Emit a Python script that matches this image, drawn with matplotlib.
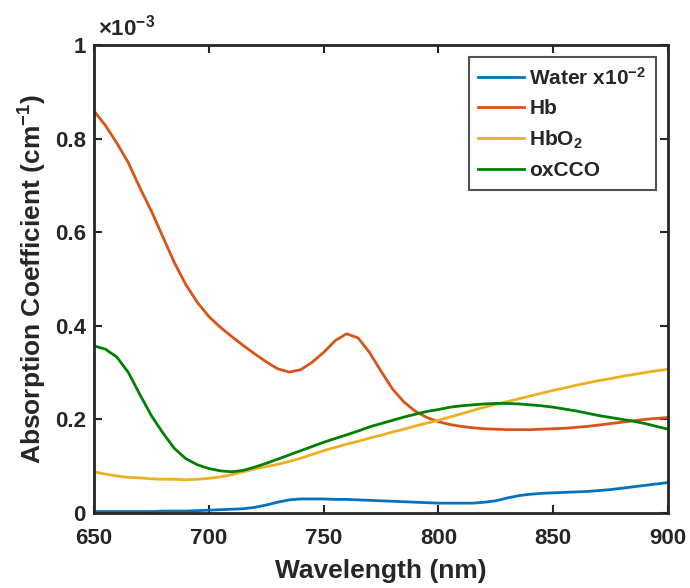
import numpy as np
import matplotlib
matplotlib.use('Agg')
import matplotlib.pyplot as plt

plt.rcParams['font.family'] = ['Liberation Sans', 'DejaVu Sans']
plt.rcParams['font.weight'] = 'bold'
plt.rcParams['mathtext.fontset'] = 'custom'
plt.rcParams['mathtext.rm'] = 'Liberation Sans'
plt.rcParams['mathtext.bf'] = 'Liberation Sans:bold'
plt.rcParams['mathtext.default'] = 'bf'

# golflengte (nm)
wl = np.arange(650, 901, 5)

# absorptie (x1e-3)
water = [0.003, 0.003, 0.003, 0.003, 0.003, 0.003, 0.004, 0.004, 0.004, 0.005,
         0.006, 0.007, 0.008, 0.009, 0.012, 0.017, 0.023, 0.028, 0.030, 0.030,
         0.030, 0.029, 0.029, 0.028, 0.027, 0.026, 0.025, 0.024, 0.023, 0.022,
         0.021, 0.021, 0.021, 0.021, 0.023, 0.026, 0.032, 0.037, 0.040, 0.042,
         0.043, 0.044, 0.045, 0.046, 0.048, 0.050, 0.053, 0.056, 0.059, 0.062,
         0.065]
hb = [0.859, 0.828, 0.790, 0.748, 0.695, 0.645, 0.590, 0.535, 0.488, 0.450,
      0.420, 0.397, 0.377, 0.358, 0.340, 0.323, 0.308, 0.301, 0.306, 0.322,
      0.343, 0.368, 0.383, 0.374, 0.343, 0.303, 0.265, 0.237, 0.217, 0.204,
      0.195, 0.189, 0.185, 0.182, 0.180, 0.179, 0.178, 0.178, 0.178, 0.179,
      0.180, 0.181, 0.183, 0.185, 0.188, 0.191, 0.194, 0.197, 0.200, 0.202,
      0.204]
hbo2 = [0.088, 0.083, 0.079, 0.076, 0.075, 0.073, 0.072, 0.072, 0.071, 0.072,
        0.074, 0.077, 0.082, 0.088, 0.094, 0.099, 0.104, 0.110, 0.117, 0.125,
        0.133, 0.140, 0.147, 0.153, 0.160, 0.166, 0.173, 0.179, 0.186, 0.192,
        0.198, 0.205, 0.212, 0.219, 0.226, 0.232, 0.238, 0.244, 0.250, 0.256,
        0.262, 0.267, 0.273, 0.278, 0.283, 0.287, 0.292, 0.296, 0.300, 0.304,
        0.307]
oxcco = [0.357, 0.350, 0.333, 0.300, 0.253, 0.208, 0.171, 0.138, 0.116, 0.103,
         0.095, 0.090, 0.088, 0.091, 0.098, 0.106, 0.115, 0.124, 0.133, 0.142,
         0.151, 0.159, 0.167, 0.175, 0.184, 0.191, 0.198, 0.205, 0.211, 0.217,
         0.221, 0.226, 0.229, 0.231, 0.233, 0.234, 0.234, 0.233, 0.231, 0.229,
         0.226, 0.222, 0.218, 0.213, 0.208, 0.204, 0.200, 0.196, 0.191, 0.185,
         0.179]

labels = ['Water x10$^{-2}$', 'Hb', 'HbO$_2$', 'oxCCO']
colors = ['#0072BD', '#D95319', '#EDB120', '#008000']

fig = plt.figure(figsize=(6.9, 5.88), dpi=100)
ax = fig.add_axes([0.1362, 0.1276, 0.832, 0.7959])

for y, lab, c in zip([water, hb, hbo2, oxcco], labels, colors):
    ax.plot(wl, y, color=c, lw=2, label=lab)

ax.set_xlim(650, 900)
ax.set_ylim(0, 1)
ax.set_xticks([650, 700, 750, 800, 850, 900])
ax.set_yticks([0, 0.2, 0.4, 0.6, 0.8, 1])
ax.set_yticklabels(['0', '0.2', '0.4', '0.6', '0.8', '1'])
ax.tick_params(direction='in', top=True, right=True, labelsize=16,
               width=1.5, length=6, colors='#262626', labelcolor='#262626')
ax.tick_params(axis='x', pad=11)
ax.tick_params(axis='y', pad=6)
for s in ax.spines.values():
    s.set_linewidth(2)
    s.set_color('#262626')

ax.set_xlabel('Wavelength (nm)', fontsize=19, fontweight='bold', labelpad=7,
              color='#262626')
ax.set_ylabel('Absorption Coefficient (cm$^{-1}$)', fontsize=19,
              fontweight='bold', labelpad=4, color='#262626')
ax.text(0.007, 1.01, r'$\mathrm{\times}$10$^{-3}$', transform=ax.transAxes,
        fontsize=16, ha='left', va='bottom', color='#262626')

leg = ax.legend(loc='upper right', fontsize=15, frameon=True, fancybox=False,
                edgecolor='#262626', handlelength=2.2, handletextpad=0.25,
                borderaxespad=0.6, labelspacing=0.5, borderpad=0.45)
leg.get_frame().set_linewidth(1.5)
for t in leg.get_texts():
    t.set_color('#262626')

fig.savefig('out.png', dpi=100)
